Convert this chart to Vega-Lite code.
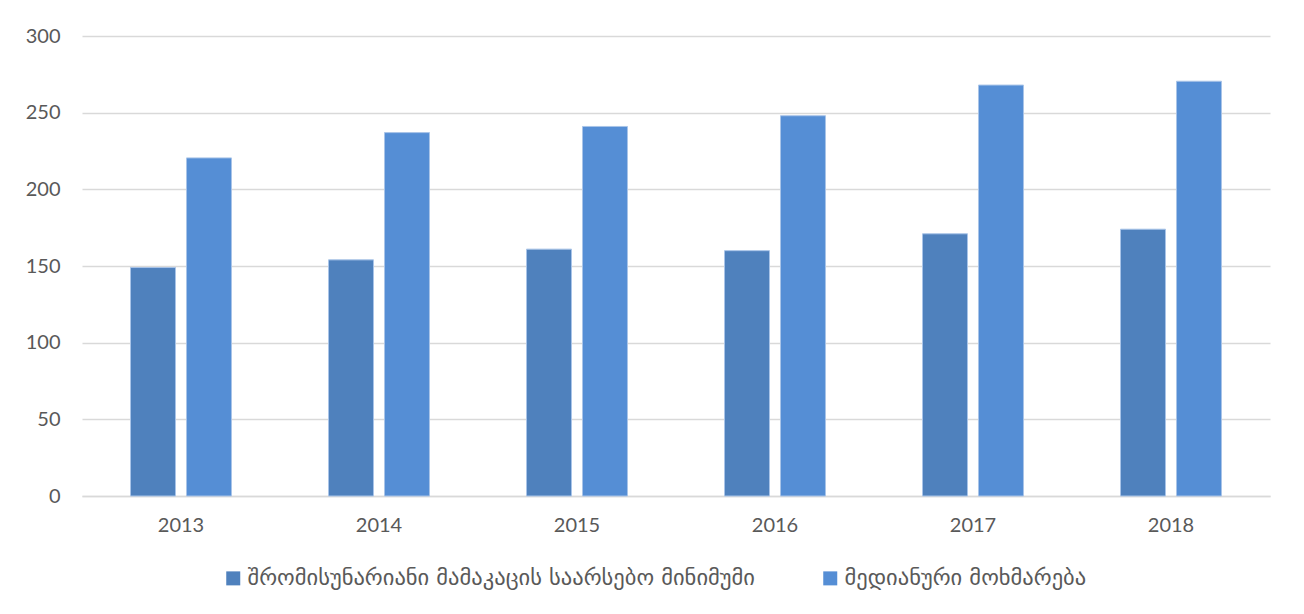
{
  "$schema": "https://vega.github.io/schema/vega-lite/v6.json",
  "autosize": "none",
  "width": 1188,
  "height": 460,
  "padding": {"left": 82, "top": 36, "right": 34, "bottom": 118},
  "background": "white",
  "data": {"values": [
    {"year": "2013", "series": "შრომისუნარიანი მამაკაცის საარსებო მინიმუმი", "value": 149},
    {"year": "2013", "series": "მედიანური მოხმარება", "value": 220.5},
    {"year": "2014", "series": "შრომისუნარიანი მამაკაცის საარსებო მინიმუმი", "value": 154},
    {"year": "2014", "series": "მედიანური მოხმარება", "value": 237},
    {"year": "2015", "series": "შრომისუნარიანი მამაკაცის საარსებო მინიმუმი", "value": 161},
    {"year": "2015", "series": "მედიანური მოხმარება", "value": 241},
    {"year": "2016", "series": "შრომისუნარიანი მამაკაცის საარსებო მინიმუმი", "value": 160},
    {"year": "2016", "series": "მედიანური მოხმარება", "value": 248},
    {"year": "2017", "series": "შრომისუნარიანი მამაკაცის საარსებო მინიმუმი", "value": 171},
    {"year": "2017", "series": "მედიანური მოხმარება", "value": 268},
    {"year": "2018", "series": "შრომისუნარიანი მამაკაცის საარსებო მინიმუმი", "value": 174},
    {"year": "2018", "series": "მედიანური მოხმარება", "value": 270.5}
  ]},
  "mark": {"type": "bar", "stroke": "#a9c4e8", "strokeWidth": 1},
  "encoding": {
    "x": {
      "field": "year", "type": "nominal", "title": null,
      "scale": {"paddingInner": 0.49, "paddingOuter": 0.245},
      "axis": {"labelAngle": 0, "ticks": false, "labelPadding": 19, "labelFont": "Lato", "labelFontSize": 20, "labelColor": "#595959", "domainColor": "#d9d9d9", "domainWidth": 1.5, "grid": false}
    },
    "xOffset": {
      "field": "series", "type": "nominal",
      "sort": ["შრომისუნარიანი მამაკაცის საარსებო მინიმუმი", "მედიანური მოხმარება"],
      "scale": {"paddingInner": 0.196, "paddingOuter": 0}
    },
    "y": {
      "field": "value", "type": "quantitative", "title": null,
      "scale": {"domain": [0, 300]},
      "axis": {"values": [0, 50, 100, 150, 200, 250, 300], "ticks": false, "domain": false, "labelPadding": 22, "labelFont": "Lato", "labelFontSize": 20, "labelColor": "#595959", "gridColor": "#d9d9d9", "gridWidth": 1.5}
    },
    "color": {
      "field": "series", "type": "nominal", "title": null,
      "sort": ["შრომისუნარიანი მამაკაცის საარსებო მინიმუმი", "მედიანური მოხმარება"],
      "scale": {"range": ["#4f81bd", "#558ed5"]},
      "legend": {"orient": "none", "legendX": 140, "legendY": 531, "direction": "horizontal", "symbolType": "square", "symbolSize": 196, "symbolStrokeWidth": 0, "labelFont": "DejaVu Sans", "labelFontSize": 22.5, "labelColor": "#595959", "columnPadding": 64, "labelOffset": 3, "labelLimit": 900}
    }
  },
  "config": {"view": {"stroke": null}}
}
